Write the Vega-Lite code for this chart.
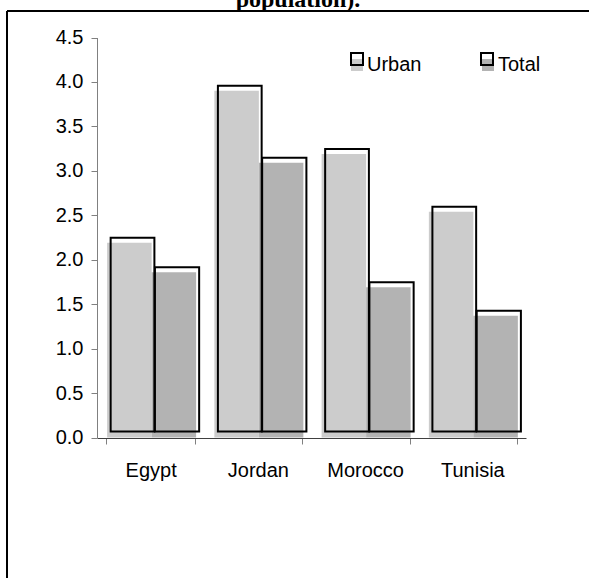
{
  "$schema": "https://vega.github.io/schema/vega-lite/v6.json",
  "width": 582,
  "height": 567,
  "autosize": "none",
  "padding": {"left": 7, "top": 11, "right": 0, "bottom": 0},
  "title": {
    "text": "population).",
    "font": "Liberation Serif",
    "fontSize": 24,
    "fontWeight": "bold",
    "color": "black",
    "anchor": "middle",
    "baseline": "alphabetic",
    "offset": 5,
    "dy": 25
  },
  "config": {
    "font": "Liberation Sans",
    "view": {"stroke": "black", "strokeWidth": 2, "strokeDash": [582, 1149, 567, 0]},
    "axis": {"grid": false, "labelFont": "Liberation Sans", "labelFontSize": 20, "labelColor": "black"}
  },
  "data": {
    "values": [
      {"country": "Egypt", "series": "Urban", "value": 2.19},
      {"country": "Egypt", "series": "Total", "value": 1.86},
      {"country": "Jordan", "series": "Urban", "value": 3.90},
      {"country": "Jordan", "series": "Total", "value": 3.09},
      {"country": "Morocco", "series": "Urban", "value": 3.19},
      {"country": "Morocco", "series": "Total", "value": 1.69},
      {"country": "Tunisia", "series": "Urban", "value": 2.54},
      {"country": "Tunisia", "series": "Total", "value": 1.37}
    ]
  },
  "encoding": {
    "x": {
      "field": "country",
      "type": "nominal",
      "sort": ["Egypt", "Jordan", "Morocco", "Tunisia"],
      "scale": {"range": [90, 519], "paddingInner": 0.17, "paddingOuter": 0.085},
      "axis": {
        "orient": "bottom",
        "offset": -140,
        "title": null,
        "labelAngle": 0,
        "tickBand": "extent",
        "tickSize": 6,
        "tickColor": "#808080",
        "domainColor": "#404040",
        "labelPadding": 16
      }
    },
    "y": {
      "field": "value",
      "type": "quantitative",
      "stack": null,
      "scale": {"domain": [0, 4.5], "range": [426.5, 26.5], "nice": false},
      "axis": {
        "orient": "left",
        "offset": -90,
        "title": null,
        "values": [0, 0.5, 1, 1.5, 2, 2.5, 3, 3.5, 4, 4.5],
        "format": ".1f",
        "tickSize": 6,
        "tickColor": "#808080",
        "domainColor": "#808080",
        "labelPadding": 8
      }
    }
  },
  "layer": [
    {
      "mark": {"type": "bar"},
      "encoding": {
        "xOffset": {"field": "series", "type": "nominal", "sort": "descending", "scale": {"range": [1, 90]}},
        "color": {
          "field": "series",
          "type": "nominal",
          "scale": {"domain": ["Urban", "Total"], "range": ["#cccccc", "#b3b3b3"]},
          "legend": {
            "title": null,
            "orient": "none",
            "direction": "horizontal",
            "columns": 2,
            "legendX": 340,
            "legendY": 44,
            "padding": 0,
            "symbolType": "square",
            "symbolSize": 144,
            "symbolStrokeWidth": 0,
            "labelFontSize": 20,
            "labelFont": "Liberation Sans",
            "labelColor": "black",
            "labelOffset": 0,
            "columnPadding": 56,
            "zindex": 0
          }
        }
      }
    },
    {
      "transform": [{"filter": "datum.series === 'Urban'"}],
      "mark": {"type": "bar", "filled": false, "strokeWidth": 2, "width": 43.75, "xOffset": -18.1, "yOffset": -5, "y2Offset": -6},
      "encoding": {
        "y2": {"datum": 0},
        "stroke": {
          "field": "series",
          "type": "nominal",
          "sort": "descending",
          "scale": {"range": ["black", "black"]},
          "legend": {
            "title": null,
            "orient": "none",
            "direction": "horizontal",
            "columns": 2,
            "legendX": 343,
            "legendY": 41,
            "padding": 0,
            "symbolType": "square",
            "symbolSize": 144,
            "symbolStrokeWidth": 2,
            "symbolFillColor": "white",
            "labelExpr": "''",
            "labelOffset": 0,
            "columnPadding": 110,
            "zindex": 1
          }
        }
      }
    },
    {
      "transform": [{"filter": "datum.series === 'Total'"}],
      "mark": {"type": "bar", "filled": false, "strokeWidth": 2, "width": 44.25, "xOffset": 26.4, "yOffset": -5, "y2Offset": -6},
      "encoding": {
        "y2": {"datum": 0},
        "stroke": {"field": "series", "type": "nominal", "sort": "descending"}
      }
    }
  ]
}
